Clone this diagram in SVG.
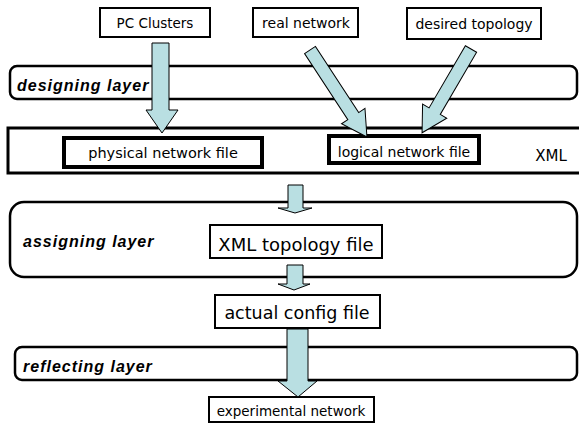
<svg xmlns="http://www.w3.org/2000/svg" width="579" height="425" viewBox="0 0 579 425">
<style>
.box{fill:#fff;stroke:#000;stroke-width:2}
.thick{fill:#fff;stroke:#000;stroke-width:4}
.layer{fill:#fff;stroke:#000;stroke-width:2.5}
.arrow{fill:#B9DFE2;stroke:#000;stroke-width:1}
.t{font-family:"DejaVu Sans",Verdana,sans-serif;fill:#000;text-anchor:middle}
.lt{font-family:"Liberation Sans",Arial,sans-serif;font-weight:bold;font-style:italic;font-size:16px;letter-spacing:1px;fill:#000}
</style>
<rect width="579" height="425" fill="#fff"/>
<g id="designing-layer"><rect class="layer" x="10" y="66" width="567" height="33" rx="7"/><text class="lt" x="17" y="91">designing layer</text></g>
<g id="xml-layer"><rect x="8" y="128" width="590" height="45" fill="#fff" stroke="#000" stroke-width="3"/><text class="t" x="551" y="161" font-size="15">XML</text></g>
<g id="assigning-layer"><rect class="layer" x="10" y="202" width="567" height="75" rx="14"/><text class="lt" x="23" y="247">assigning layer</text></g>
<g id="reflecting-layer"><rect class="layer" x="15" y="347" width="562" height="33" rx="7"/><text class="lt" x="23" y="372">reflecting layer</text></g>
<g id="pc-clusters"><rect class="box" x="100" y="8" width="110" height="29"/><text class="t" x="155" y="28" font-size="13.5">PC Clusters</text></g>
<g id="real-network"><rect class="box" x="253" y="8" width="105" height="29"/><text class="t" x="306" y="28" font-size="14">real network</text></g>
<g id="desired-topology"><rect class="box" x="407" y="8" width="134" height="31"/><text class="t" x="474" y="29" font-size="14">desired topology</text></g>
<g id="physical-network-file"><rect class="thick" x="64" y="138" width="198" height="29"/><text class="t" x="163" y="158" font-size="14.5">physical network file</text></g>
<g id="logical-network-file"><rect class="thick" x="329" y="136" width="150" height="27"/><text class="t" x="404" y="157" font-size="14">logical network file</text></g>
<g id="xml-topology-file"><rect class="box" x="210" y="225" width="172" height="33"/><text class="t" x="296" y="251" font-size="18">XML topology file</text></g>
<g id="actual-config-file"><rect class="box" x="215" y="295" width="165" height="33"/><text class="t" x="297" y="319" font-size="17.5">actual config file</text></g>
<g id="experimental-network"><rect class="box" x="209" y="397" width="165" height="25"/><text class="t" x="291" y="416" font-size="13.5">experimental network</text></g>
<g id="connectors">
<polygon class="arrow" points="152,43 169,43 169,110 178,110 162,133 146,110 152,110"/>
<polygon class="arrow" transform="translate(310,50) rotate(-33.2)" points="-6.5,0 6.5,0 6.5,79 14,79 0,104 -14,79 -6.5,79"/>
<polygon class="arrow" transform="translate(471,49) rotate(30.3)" points="-6.5,0 6.5,0 6.5,72 14,72 0,97 -14,72 -6.5,72"/>
<polygon class="arrow" points="288,185 303,185 303,208 312,208 295,213 278,208 288,208"/>
<polygon class="arrow" points="287,265 303,265 303,284 310,284 294,290 278,284 287,284"/>
<polygon class="arrow" points="287,329 308,329 308,381 317,381 298,397 278,381 287,381"/>
</g>
</svg>
